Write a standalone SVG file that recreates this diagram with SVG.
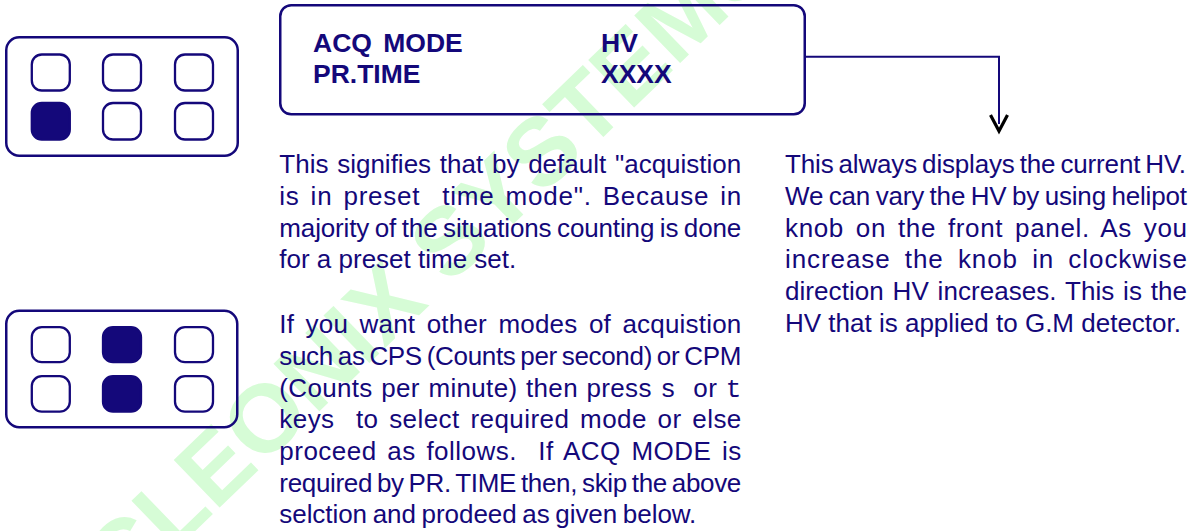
<svg xmlns="http://www.w3.org/2000/svg" width="1197" height="531" viewBox="0 0 1197 531">
  <style>
    .frame { fill: none; stroke: #14087a; stroke-width: 2.5; }
    .key { fill: none; stroke: #14087a; stroke-width: 2.3; }
    .key.on { fill: #14087a; }
    .lcd { font-family: "Liberation Sans", Arial, sans-serif; font-weight: bold; font-size: 26.5px; fill: #14087a; }
    .body { font-family: "Liberation Sans", Arial, sans-serif; font-size: 26px; fill: #14087a; white-space: pre; }
    .mono { font-family: "Liberation Mono", "Courier New", monospace; }
    .mark { font-family: "Liberation Sans", Arial, sans-serif; font-weight: bold; font-size: 96px; fill: #d6fcd6; }
    .wire { fill: none; stroke: #14087a; stroke-width: 2; }
  </style>
  <defs>
    <marker id="vhead" markerUnits="userSpaceOnUse" viewBox="-12 -12 24 24" markerWidth="24" markerHeight="24" refX="0" refY="0" orient="auto" overflow="visible">
      <path d="M-9,-8.5 L7,0 L-9,8.5" fill="none" stroke="#000" stroke-width="3.2" stroke-linejoin="miter"/>
    </marker>
  </defs>

  <rect width="1197" height="531" fill="#fff"/>

  <!-- company watermark behind everything -->
  <g id="watermark">
    <text class="mark" transform="translate(123 601) rotate(-44)">CLEONIX SYSTEMS</text>
  </g>

  <!-- keypad: first key of the bottom row lit -->
  <g id="keypad-1">
    <rect class="frame" x="6.25" y="37.25" width="231.5" height="118.5" rx="13"/>
    <rect class="key" x="31.8" y="54.5" width="38" height="36" rx="10"/>
    <rect class="key" x="103" y="54.5" width="38" height="36" rx="10"/>
    <rect class="key" x="175" y="54.5" width="38" height="36" rx="10"/>
    <rect class="key on" x="31.8" y="103" width="38" height="36.5" rx="10"/>
    <rect class="key" x="103" y="103" width="38" height="36.5" rx="10"/>
    <rect class="key" x="175" y="103" width="38" height="36.5" rx="10"/>
  </g>

  <!-- keypad: middle column lit -->
  <g id="keypad-2">
    <rect class="frame" x="6.25" y="310.75" width="231" height="116.5" rx="13"/>
    <rect class="key" x="31.8" y="327.2" width="38" height="35" rx="10"/>
    <rect class="key on" x="103" y="327.2" width="38" height="35" rx="10"/>
    <rect class="key" x="175" y="327.2" width="38" height="35" rx="10"/>
    <rect class="key" x="31.8" y="376.2" width="38" height="35.5" rx="10"/>
    <rect class="key on" x="103" y="376.2" width="38" height="35.5" rx="10"/>
    <rect class="key" x="175" y="376.2" width="38" height="35.5" rx="10"/>
  </g>

  <!-- LCD readout -->
  <g id="lcd">
    <rect class="frame" x="280.25" y="5.25" width="524.5" height="109" rx="11"/>
    <text class="lcd" x="313" y="52" word-spacing="4">ACQ MODE</text>
    <text class="lcd" x="313" y="83">PR.TIME</text>
    <text class="lcd" x="601" y="52">HV</text>
    <text class="lcd" x="601" y="83">XXXX</text>
  </g>

  <!-- note on the default acquisition mode -->
  <g id="note-default" class="body">
    <text xml:space="preserve" x="279.3" y="173.3" word-spacing="1.5" textLength="462" lengthAdjust="spacing">This signifies that by default "acquistion</text>
    <text xml:space="preserve" x="279.3" y="205" word-spacing="3" textLength="462" lengthAdjust="spacing">is in preset  time mode". Because in</text>
    <text xml:space="preserve" x="279.3" y="236.7" word-spacing="-1.5" textLength="462" lengthAdjust="spacing">majority of the situations counting is done</text>
    <text xml:space="preserve" x="279.3" y="268.3">for a preset time set.</text>
  </g>

  <!-- note on selecting other modes -->
  <g id="note-modes" class="body">
    <text xml:space="preserve" x="279.3" y="333.3" word-spacing="4" textLength="462" lengthAdjust="spacing">If you want other modes of acquistion</text>
    <text xml:space="preserve" x="279.3" y="365" word-spacing="-2" textLength="462" lengthAdjust="spacing">such as CPS (Counts per second) or CPM</text>
    <text xml:space="preserve" x="279.3" y="396.7" word-spacing="1" textLength="462" lengthAdjust="spacing">(Counts per minute) then press <tspan class="mono">s</tspan>  or <tspan class="mono">t</tspan></text>
    <text xml:space="preserve" x="279.3" y="428.3" word-spacing="3" textLength="462" lengthAdjust="spacing">keys  to select required mode or else</text>
    <text xml:space="preserve" x="279.3" y="460" word-spacing="3" textLength="462" lengthAdjust="spacing">proceed as follows.  If ACQ MODE is</text>
    <text xml:space="preserve" x="279.3" y="491.7" word-spacing="-2" textLength="462" lengthAdjust="spacing">required by PR. TIME then, skip the above</text>
    <text xml:space="preserve" x="279.3" y="523.3" word-spacing="-1.5" textLength="417" lengthAdjust="spacing">selction and prodeed as given below.</text>
  </g>

  <!-- note on the HV reading -->
  <g id="note-hv" class="body">
    <text xml:space="preserve" x="785" y="173.3" word-spacing="-2" textLength="401" lengthAdjust="spacing">This always displays the current HV.</text>
    <text xml:space="preserve" x="785" y="205" word-spacing="-1.5" textLength="402" lengthAdjust="spacing">We can vary the HV by using helipot</text>
    <text xml:space="preserve" x="785" y="236.7" word-spacing="4" textLength="402" lengthAdjust="spacing">knob on the front panel. As you</text>
    <text xml:space="preserve" x="785" y="268.3" word-spacing="6" textLength="402" lengthAdjust="spacing">increase the knob in clockwise</text>
    <text xml:space="preserve" x="785" y="300" word-spacing="1.5" textLength="402" lengthAdjust="spacing">direction HV increases. This is the</text>
    <text xml:space="preserve" x="785" y="331.7">HV that is applied to G.M detector.</text>
  </g>

  <!-- leader from the HV field down to its note -->
  <g id="connectors">
    <path class="wire" d="M805.5,56.7 H999 V124" marker-end="url(#vhead)"/>
  </g>
</svg>
